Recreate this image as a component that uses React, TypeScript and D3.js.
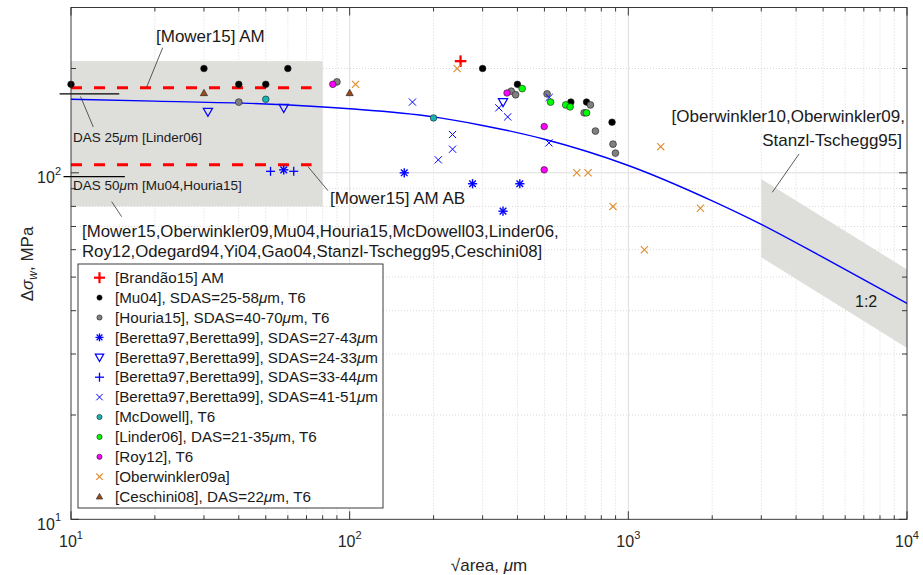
import React from 'react';
import * as d3 from 'd3';

const W = 923;
const H = 575;
const FONT = 'Liberation Sans, Arial, Helvetica, sans-serif';
const AX = '#262626';

// ---- axis configuration ----
const xDomain = [10, 10000];
const yDomain = [10, 300];
const xMajorTicks = [10, 100, 1000, 10000];
const xTickExponents = ['1', '2', '3', '4'];
const yMajorTicks = [10, 100];
const yTickExponents = ['1', '2'];

// ---- data series (sqrt(area) in um, stress in MPa) ----
const brandao = [[250, 210]];
const mu04 = [[10, 180], [30, 200], [40, 180], [50, 180], [60, 200], [300, 200], [400, 180], [622, 160], [708, 160], [874, 140]];
const houria = [[40, 160], [90, 183], [380, 172], [394, 168], [511, 169], [731, 157], [694, 149], [762, 132], [881, 121], [899, 114]];
const beretta2743 = [[58, 102], [157, 100], [276, 93], [408, 93], [355, 77.5]];
const beretta2433 = [[31, 150], [58, 154], [355, 160]];
const beretta3344 = [[52, 101], [63, 101]];
const beretta4151 = [[168, 160], [343, 154], [369, 145], [234, 129], [234, 117], [208, 109], [520, 165], [519, 122]];
const mcdowell = [[50, 163], [200, 144]];
const linder = [[416, 175], [526, 160], [596, 157], [618, 155], [708, 149]];
const roy = [[87, 180], [367, 170], [499, 136], [499, 102]];
const oberwinkler = [[105, 180], [243, 200], [653, 100], [717, 100], [881, 80], [1307, 119], [1142, 60], [1814, 79]];
const ceschini = [[30, 170], [100, 170]];

// model curve
const curveX = [10, 20, 50, 100, 200, 300, 500, 1000, 2000, 3000, 5000, 10000];
const curveY = [163, 161, 158, 153, 145, 137, 125, 105, 83, 71, 57, 42];

// shaded regions and reference lines
const amBoxX = [10, 80];
const amBoxY = [80, 210];
const mowerAmY = 176;
const mowerAbY = 105.5;
const mowerX = [10, 73];
const das25Y = 169;
const das25X = [9.1, 14.9];
const das50Y = 97.5;
const das50X = [9.4, 15.6];
const bandX = [3000, 10000];
const bandTop = [96, 52.6];
const bandBottom = [57, 31.2];

const seriesDefs = [
  { label: '[Brandão15] AM', data: brandao, marker: 'plus', color: '#ff0000', size: 5.8, sw: 2.3, lsize: 5.5, lsw: 2.2 },
  { label: '[Mu04], SDAS=25-58μm, T6', data: mu04, marker: 'circle', color: '#000000', size: 3.3, lsize: 2.6 },
  { label: '[Houria15], SDAS=40-70μm, T6', data: houria, marker: 'circle', color: '#808080', size: 3.4, lsize: 2.6 },
  { label: '[Beretta97,Beretta99], SDAS=27-43μm', data: beretta2743, marker: 'asterisk', color: '#0000ff', size: 4.6, sw: 1.4, lsize: 4, lsw: 1.3 },
  { label: '[Beretta97,Beretta99], SDAS=24-33μm', data: beretta2433, marker: 'triDown', color: '#0000ff', size: 4.6, sw: 1.2, lsize: 4.2, lsw: 1.2 },
  { label: '[Beretta97,Beretta99], SDAS=33-44μm', data: beretta3344, marker: 'plus', color: '#0000ff', size: 4.5, sw: 1.3, lsize: 4.5, lsw: 1.3 },
  { label: '[Beretta97,Beretta99], SDAS=41-51μm', data: beretta4151, marker: 'cross', color: '#0000ff', size: 3.6, sw: 1, lsize: 3.2, lsw: 1 },
  { label: '[McDowell], T6', data: mcdowell, marker: 'circle', color: '#14b4b4', size: 3.3, lsize: 2.6 },
  { label: '[Linder06], DAS=21-35μm, T6', data: linder, marker: 'circle', color: '#00ff00', size: 3.4, lsize: 2.6 },
  { label: '[Roy12], T6', data: roy, marker: 'circle', color: '#ff00ff', size: 3.3, lsize: 2.6 },
  { label: '[Oberwinkler09a]', data: oberwinkler, marker: 'cross', color: '#de8c2a', size: 3.6, sw: 1.1, lsize: 3.2, lsw: 1.1 },
  { label: '[Ceschini08], DAS=22μm, T6', data: ceschini, marker: 'triUp', color: '#9a4a1c', size: 3.6, lsize: 3.2 },
];

const xs = d3.scaleLog().domain(xDomain).range([71, 907]);
const ys = d3.scaleLog().domain(yDomain).range([519.3, 7.5]);

function Marker({ type, x, y, size, color, sw }: any) {
  const s = size;
  if (type === 'circle') {
    return <circle cx={x} cy={y} r={s} fill={color} stroke="#1a1a1a" strokeWidth={0.6} />;
  }
  if (type === 'plus') {
    return (
      <g stroke={color} strokeWidth={sw}>
        <line x1={x - s} y1={y} x2={x + s} y2={y} />
        <line x1={x} y1={y - s} x2={x} y2={y + s} />
      </g>
    );
  }
  if (type === 'cross') {
    return (
      <g stroke={color} strokeWidth={sw}>
        <line x1={x - s} y1={y - s} x2={x + s} y2={y + s} />
        <line x1={x - s} y1={y + s} x2={x + s} y2={y - s} />
      </g>
    );
  }
  if (type === 'asterisk') {
    const d = s * 0.72;
    return (
      <g stroke={color} strokeWidth={sw}>
        <line x1={x - s} y1={y} x2={x + s} y2={y} />
        <line x1={x} y1={y - s} x2={x} y2={y + s} />
        <line x1={x - d} y1={y - d} x2={x + d} y2={y + d} />
        <line x1={x - d} y1={y + d} x2={x + d} y2={y - d} />
      </g>
    );
  }
  if (type === 'triDown') {
    const pts = `${x - s},${y - s * 0.75} ${x + s},${y - s * 0.75} ${x},${y + s}`;
    return <polygon points={pts} fill="none" stroke={color} strokeWidth={sw} />;
  }
  if (type === 'triUp') {
    const pts = `${x - s},${y + s * 0.75} ${x + s},${y + s * 0.75} ${x},${y - s}`;
    return <polygon points={pts} fill={color} stroke="#1a1a1a" strokeWidth={0.6} />;
  }
  return null;
}

function MuText({ text }: { text: string }) {
  const parts = text.split('μ');
  return (
    <>
      {parts.map((p, i) => (
        <React.Fragment key={i}>
          {i > 0 && <tspan fontStyle="italic">μ</tspan>}
          {p}
        </React.Fragment>
      ))}
    </>
  );
}

function decadeMinors(domain: number[]) {
  const out: number[] = [];
  for (let d = Math.log10(domain[0]); d < Math.log10(domain[1]); d++) {
    const base = Math.pow(10, d);
    for (let k = 2; k <= 9; k++) {
      const v = k * base;
      if (v > domain[0] && v < domain[1]) out.push(v);
    }
  }
  return out;
}

export default function App() {
  const xMinor = decadeMinors(xDomain);
  const yMinor = decadeMinors(yDomain);
  const x0 = xs.range()[0], x1 = xs.range()[1];
  const yb = ys.range()[0], yt = ys.range()[1];

  const curvePts = curveX.map((v, i) => [xs(v), ys(curveY[i])] as [number, number]);
  const curvePath = d3.line().curve(d3.curveMonotoneX)(curvePts) || '';

  const bandPts = [
    [xs(bandX[0]), ys(bandTop[0])],
    [xs(bandX[1]), ys(bandTop[1])],
    [xs(bandX[1]), ys(bandBottom[1])],
    [xs(bandX[0]), ys(bandBottom[0])],
  ].map((p) => p.join(',')).join(' ');

  const legendX = 78, legendY = 264, legendW = 305, legendH = 244;
  const rowY0 = 277.7, rowStep = 19.9;

  return (
    <svg width={W} height={H} style={{ position: 'absolute', left: 0, top: 0, background: '#fff' }} fontFamily={FONT}>
      <rect x={0} y={0} width={W} height={H} fill="#fff" />
      <defs>
        <clipPath id="plotClip">
          <rect x={x0} y={yt} width={x1 - x0} height={yb - yt} />
        </clipPath>
      </defs>

      {/* grid */}
      <g>
        {xMinor.map((v) => (
          <line key={'gx' + v} x1={xs(v)} x2={xs(v)} y1={yt} y2={yb} stroke="#cfcfcf" strokeWidth={0.8} strokeDasharray="1,2" />
        ))}
        {yMinor.map((v) => (
          <line key={'gy' + v} y1={ys(v)} y2={ys(v)} x1={x0} x2={x1} stroke="#cfcfcf" strokeWidth={0.8} strokeDasharray="1,2" />
        ))}
        {xMajorTicks.slice(1, -1).map((v) => (
          <line key={'Gx' + v} x1={xs(v)} x2={xs(v)} y1={yt} y2={yb} stroke="#dedede" strokeWidth={1} />
        ))}
        {yMajorTicks.slice(1).map((v) => (
          <line key={'Gy' + v} y1={ys(v)} y2={ys(v)} x1={x0} x2={x1} stroke="#dedede" strokeWidth={1} />
        ))}
      </g>

      {/* shaded regions */}
      <g clipPath="url(#plotClip)">
        <rect
          x={xs(amBoxX[0])}
          y={ys(amBoxY[1])}
          width={xs(amBoxX[1]) - xs(amBoxX[0])}
          height={ys(amBoxY[0]) - ys(amBoxY[1])}
          fill="#dcdcd8"
          fillOpacity={0.93}
        />
        <polygon points={bandPts} fill="#dcdcd8" fillOpacity={0.93} />
      </g>

      {/* Mower15 dashed lines */}
      <line x1={xs(mowerX[0])} x2={xs(mowerX[1])} y1={ys(mowerAmY)} y2={ys(mowerAmY)} stroke="#ff0000" strokeWidth={3.2} strokeDasharray="11,12" />
      <line x1={xs(mowerX[0])} x2={xs(mowerX[1])} y1={ys(mowerAbY)} y2={ys(mowerAbY)} stroke="#ff0000" strokeWidth={3.2} strokeDasharray="11,12" />

      {/* DAS lines */}
      <line x1={xs(das25X[0])} x2={xs(das25X[1])} y1={ys(das25Y)} y2={ys(das25Y)} stroke="#000" strokeWidth={1.3} />
      <line x1={xs(das50X[0])} x2={xs(das50X[1])} y1={ys(das50Y)} y2={ys(das50Y)} stroke="#000" strokeWidth={1.3} />

      {/* model curve */}
      <path d={curvePath} fill="none" stroke="#0000ff" strokeWidth={1.4} clipPath="url(#plotClip)" />

      {/* markers */}
      <g>
        {seriesDefs.map((s, si) =>
          s.data.map((d, i) => (
            <Marker key={si + '-' + i} type={s.marker} x={xs(d[0])} y={ys(d[1])} size={s.size} color={s.color} sw={s.sw} />
          ))
        )}
      </g>

      {/* annotations */}
      <g fill="#1a1a1a" stroke="none">
        <text x={156} y={42} fontSize={17}>[Mower15] AM</text>
        <line x1={162.7} y1={47.7} x2={146.7} y2={87} stroke="#333" strokeWidth={0.8} />

        <text x={73} y={141.7} fontSize={13.5}><MuText text="DAS 25μm [Linder06]" /></text>
        <line x1={80.5} y1={96.5} x2={93.3} y2={127} stroke="#333" strokeWidth={0.8} />

        <text x={73} y={190} fontSize={13.5}><MuText text="DAS 50μm [Mu04,Houria15]" /></text>

        <text x={330} y={204} fontSize={17}>[Mower15] AM AB</text>
        <line x1={308} y1={166.7} x2={328} y2={190.7} stroke="#333" strokeWidth={0.8} />

        <text x={82} y={236.5} fontSize={16.8}>[Mower15,Oberwinkler09,Mu04,Houria15,McDowell03,Linder06,</text>
        <text x={82} y={256.5} fontSize={16.8}>Roy12,Odegard94,Yi04,Gao04,Stanzl-Tschegg95,Ceschini08]</text>
        <line x1={111.7} y1={201.7} x2={121.7} y2={216.7} stroke="#333" strokeWidth={0.8} />

        <text x={905} y={122} fontSize={17} textAnchor="end">[Oberwinkler10,Oberwinkler09,</text>
        <text x={902} y={146} fontSize={17} textAnchor="end">Stanzl-Tschegg95]</text>
        <line x1={799} y1={154} x2={772.3} y2={192.3} stroke="#333" strokeWidth={0.8} />

        <text x={855} y={306.5} fontSize={16}>1:2</text>
      </g>

      {/* axes box and ticks */}
      <g stroke={AX} strokeWidth={0.9} fill="none">
        <rect x={x0} y={yt} width={x1 - x0} height={yb - yt} />
        {xMajorTicks.map((v) => (
          <g key={'tx' + v}>
            <line x1={xs(v)} x2={xs(v)} y1={yb} y2={yb - 8} />
            <line x1={xs(v)} x2={xs(v)} y1={yt} y2={yt + 8} />
          </g>
        ))}
        {xMinor.map((v) => (
          <g key={'tmx' + v}>
            <line x1={xs(v)} x2={xs(v)} y1={yb} y2={yb - 4} />
            <line x1={xs(v)} x2={xs(v)} y1={yt} y2={yt + 4} />
          </g>
        ))}
        {yMajorTicks.map((v) => (
          <g key={'ty' + v}>
            <line y1={ys(v)} y2={ys(v)} x1={x0} x2={x0 + 8} />
            <line y1={ys(v)} y2={ys(v)} x1={x1} x2={x1 - 8} />
          </g>
        ))}
        {yMinor.map((v) => (
          <g key={'tmy' + v}>
            <line y1={ys(v)} y2={ys(v)} x1={x0} x2={x0 + 5} />
            <line y1={ys(v)} y2={ys(v)} x1={x1} x2={x1 - 5} />
          </g>
        ))}
      </g>

      {/* tick labels */}
      <g fill={AX}>
        {xMajorTicks.map((v, i) => (
          <text key={'lx' + v} x={xs(v)} y={547} fontSize={16} textAnchor="middle">
            10<tspan fontSize={11} dy={-8.5}>{xTickExponents[i]}</tspan>
          </text>
        ))}
        {yMajorTicks.map((v, i) => (
          <text key={'ly' + v} x={61} y={ys(v) + 10.5} fontSize={16} textAnchor="end">
            10<tspan fontSize={11} dy={-8.5}>{yTickExponents[i]}</tspan>
          </text>
        ))}
      </g>

      {/* axis labels */}
      <text x={489} y={571} fontSize={17} textAnchor="middle" fill={AX}>
        √area, <tspan fontStyle="italic">μ</tspan>m
      </text>
      <text transform="translate(33,264) rotate(-90)" fontSize={17} textAnchor="middle" fill={AX}>
        Δ<tspan fontStyle="italic">σ</tspan>
        <tspan fontSize={12} dy={4} fontStyle="italic">w</tspan>
        <tspan dy={-4}>, MPa</tspan>
      </text>

      {/* legend */}
      <g>
        <rect x={legendX} y={legendY} width={legendW} height={legendH} fill="#fff" stroke={AX} strokeWidth={0.9} />
        {seriesDefs.map((s, i) => {
          const ry = rowY0 + i * rowStep;
          return (
            <g key={'lg' + i}>
              <Marker type={s.marker} x={99.5} y={ry} size={s.lsize} color={s.color} sw={s.lsw} />
              <text x={115} y={ry + 5.2} fontSize={15.2} fill="#1a1a1a">
                <MuText text={s.label} />
              </text>
            </g>
          );
        })}
      </g>
    </svg>
  );
}
